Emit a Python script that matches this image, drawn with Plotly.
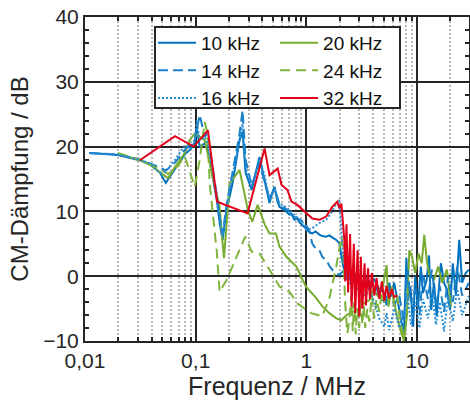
import plotly.graph_objects as go

# ---------------- data (frequency in MHz, attenuation in dB) ----------------
pts_10k = [(0.0109,19.0),(0.0198,18.7),(0.0313,17.9),(0.0385,17.3),(0.0474,16.0),(0.0537,14.4),(0.0647,16.5),
           (0.0796,18.8),(0.0883,19.5),(0.098,20.6),(0.102,22.8),(0.1087,20.0),(0.1206,20.5),(0.128,19.5),
           (0.142,15.4),(0.155,11.8),(0.1645,8.2),(0.175,5.6),(0.19,10.2),(0.215,14.3),(0.249,21.0),(0.265,22.3),
           (0.282,16.0),(0.32,13.3),(0.377,18.4),(0.419,15.0),(0.464,11.3),(0.494,13.0),(0.515,13.8),(0.548,11.5),
           (0.571,10.7),(0.634,10.2),(0.674,9.8),(0.703,9.5),(0.733,9.6),(0.779,8.7),(0.829,8.9),(0.865,8.3),
           (0.959,7.6),(1.0,7.3),(1.064,6.8),(1.13,6.6),(1.21,6.9),(1.31,6.4),(1.39,6.2),(1.51,6.1),(1.61,6.3),
           (1.71,6.0),(1.79,5.8),(1.86,5.6),(1.98,5.1),(2.07,3.0),(2.15,1.5),(2.24,0.5),(2.34,-0.5),(2.44,0.0),
           (2.54,-1.0),(2.7,0.5),(2.88,-0.8),(3.0,0.2),(3.2,-1.5),(3.4,0.0),(3.7,-1.0),(4.1,-0.5),(4.55,-2.0),
           (5.05,-2.6),(5.3,-4.5),(5.6,-1.0),(5.9,-3.0),(6.2,-1.0),(6.6,-3.6),(6.9,-5.5),(7.3,-7.8),(7.6,-9.0),
           (8.0,2.8),(8.3,-3.6),(8.7,-1.6),(9.2,-7.8),(9.6,0.0),(10.2,-4.7),(10.8,1.5),(11.3,-2.6),(12.2,-0.6),
           (12.8,3.2),(13.4,-5.2),(14.2,-1.0),(15.0,-6.2),(15.6,-2.0),(16.4,2.0),(17.5,-1.0),(18.6,-2.1),
           (19.8,-5.2),(21.0,2.0),(22.4,-3.0),(24.0,5.6),(25.5,-1.0),(27.5,0.5),(29.4,1.0)]

pts_14k = [(0.0109,19.0),(0.0198,18.8),(0.0313,18.0),(0.0474,16.8),(0.0537,16.3),(0.0647,17.5),(0.0796,19.5),
           (0.098,21.0),(0.1087,24.9),(0.1206,21.5),(0.128,22.0),(0.142,17.0),(0.155,12.5),(0.1645,9.0),
           (0.175,6.5),(0.19,11.0),(0.215,16.0),(0.249,22.0),(0.265,25.6),(0.282,18.0),(0.32,14.0),(0.377,17.5),
           (0.419,14.5),(0.464,12.0),(0.515,13.5),(0.571,11.0),(0.634,10.5),(0.703,10.0),(0.779,9.2),(0.865,8.8),
           (0.959,8.3),(1.064,7.0),(1.13,5.0),(1.21,4.3),(1.31,4.0),(1.39,3.0),(1.51,2.5),(1.61,1.6),(1.71,1.0),
           (1.86,0.5),(1.98,0.2),(2.15,0.8),(2.34,-0.5),(2.54,0.8),(2.7,-1.0),(2.88,0.0),(3.1,-1.8),(3.4,-0.5),
           (3.7,-2.0),(4.1,-1.0),(4.55,-3.0),(5.05,-4.0),(5.6,-2.0),(6.2,-4.5),(6.9,-3.0),(7.6,-7.0),(8.2,1.0),
           (8.8,-4.0),(9.6,-2.0),(10.5,-6.0),(11.3,0.5),(12.5,-3.5),(13.6,1.0),(14.8,-4.5),(16.0,-1.5),
           (17.5,-5.5),(19.0,0.0),(21.0,-4.0),(23.0,1.5),(25.5,-3.0),(29.4,-1.0)]

pts_16k = [(0.0109,19.0),(0.0198,18.8),(0.0313,18.0),(0.0385,17.4),(0.0474,15.9),(0.0537,16.2),(0.0647,17.9),
           (0.0796,20.2),(0.0883,19.7),(0.098,21.0),(0.102,24.0),(0.1087,21.0),(0.1206,21.5),(0.128,20.5),
           (0.142,16.5),(0.155,12.0),(0.1645,8.8),(0.175,6.2),(0.19,10.8),(0.215,15.5),(0.249,21.5),(0.265,23.5),
           (0.282,17.0),(0.32,14.0),(0.377,18.0),(0.419,15.5),(0.464,12.0),(0.515,13.5),(0.571,11.2),(0.634,10.8),
           (0.703,10.2),(0.779,9.4),(0.865,8.8),(0.959,8.0),(1.0,7.1),(1.13,7.4),(1.31,8.2),(1.51,8.7),
           (1.71,10.0),(1.79,10.7),(1.98,11.8),(2.07,6.0),(2.15,3.0),(2.34,0.0),(2.54,-1.5),(2.7,-0.5),(2.88,-2.0),
           (3.1,-1.0),(3.4,-3.0),(3.7,-2.0),(4.1,-4.0),(4.55,-6.5),(5.05,-7.8),(5.3,-5.7),(5.6,-8.3),(6.2,-5.0),
           (6.9,-8.0),(7.6,-6.0),(8.2,-3.0),(8.8,-7.5),(9.6,-4.0),(10.5,-8.0),(11.3,-3.5),(12.5,-6.5),(13.6,-2.5),
           (14.8,-7.5),(16.0,-4.0),(17.5,-8.5),(19.0,-3.0),(21.0,-7.0),(23.0,-2.0),(25.5,-6.0),(29.4,-3.0)]

pts_20k = [(0.0198,18.9),(0.0313,17.9),(0.0385,17.2),(0.0474,16.0),(0.0562,15.1),(0.0647,16.8),(0.0796,19.0),
           (0.0883,21.0),(0.098,22.0),(0.1087,21.5),(0.1206,21.0),(0.142,15.4),(0.1645,10.7),(0.175,5.1),
           (0.18,2.8),(0.19,8.0),(0.2025,14.3),(0.249,16.4),(0.296,10.2),(0.324,8.4),(0.363,11.0),(0.42,8.0),
           (0.464,6.6),(0.53,6.6),(0.57,4.6),(0.66,3.0),(0.73,2.2),(0.81,1.5),(0.99,-1.6),(1.2,-3.2),(1.4,-4.7),
           (1.61,-5.7),(1.86,-6.5),(2.07,-6.8),(2.3,-6.0),(2.6,-5.5),(3.0,-5.0),(3.4,-4.0),(3.7,-3.7),(4.0,-2.0),
           (4.4,-3.0),(4.9,-1.5),(5.3,1.7),(5.5,-4.7),(5.9,-1.6),(6.4,-5.2),(7.0,-8.0),(7.6,-10.0),(8.1,-6.0),
           (8.5,4.0),(9.0,3.0),(9.6,0.5),(10.3,3.5),(11.0,2.0),(11.6,6.4),(12.2,2.5),(12.8,0.5),(14.2,-0.6),
           (15.5,1.5),(16.8,-1.0),(18.6,1.0),(20.2,-4.7)]

pts_24k = [(0.0198,19.0),(0.0313,18.0),(0.0474,16.5),(0.0562,15.8),(0.0647,16.5),(0.0717,17.4),(0.0796,18.5),
           (0.0883,16.0),(0.098,13.8),(0.1087,18.0),(0.1206,23.8),(0.128,22.0),(0.1337,14.3),(0.1546,4.0),
           (0.1645,-2.4),(0.19,-0.6),(0.229,2.5),(0.28,6.1),(0.32,3.8),(0.377,3.5),(0.464,1.0),(0.571,-1.6),
           (0.703,-2.4),(0.829,-4.2),(1.1,-5.7),(1.39,-6.2),(1.61,-3.4),(1.86,1.5),(2.07,6.1),(2.15,4.0),
           (2.24,-4.2),(2.34,-8.8),(2.44,-7.0),(2.54,-3.0),(2.62,-8.5),(2.7,-4.0),(2.79,-9.0),(2.88,-5.0),
           (3.0,-8.0),(3.1,-3.5),(3.2,-7.5),(3.3,-4.5),(3.4,-8.0),(3.55,-5.0),(3.7,-7.0),(3.9,-3.0),(4.1,-6.5),
           (4.3,-3.5),(4.55,-5.5),(4.8,-2.5),(5.05,-4.0),(5.3,-1.5),(5.6,-3.0),(5.9,-2.0),(6.2,-4.5),(6.6,-3.0),
           (6.9,-6.0),(7.3,-8.0),(7.6,-9.5)]

pts_32k = [(0.0313,17.9),(0.065,21.6),(0.096,20.0),(0.129,22.5),(0.156,11.5),(0.294,9.7),(0.419,19.7),
           (0.464,15.6),(0.55,16.6),(0.595,14.1),(0.674,13.3),(0.733,11.5),(0.829,11.0),(0.959,10.0),(1.13,8.9),
           (1.31,8.7),(1.51,9.2),(1.71,10.7),(1.9,11.5),(1.98,10.5),(2.07,11.2),(2.2,5.6),(2.24,-0.8),(2.3,8.0),
           (2.38,-2.5),(2.48,6.5),(2.56,-4.7),(2.68,5.0),(2.76,-5.7),(2.9,4.0),(3.0,-6.2),(3.1,3.0),(3.2,-5.0),
           (3.35,2.0),(3.45,-4.5),(3.6,1.2),(3.75,-3.5),(3.9,0.5),(4.1,-3.0),(4.3,-0.3),(4.55,-3.5),(4.8,-0.8),
           (5.05,-3.8),(5.3,-1.5),(5.6,-3.4),(5.9,-2.0),(6.2,-3.2),(6.6,-3.0)]

series_names = ["10 kHz", "20 kHz", "14 kHz", "24 kHz", "16 kHz", "32 kHz"]
series_pts = [pts_10k, pts_20k, pts_14k, pts_24k, pts_16k, pts_32k]
series_colors = ["#0072BD", "#77AC30", "#1a7fc7", "#7fb33b", "#2b8fd8", "#E2001A"]
series_dash = ["solid", "solid", "10px,5px", "10px,6px", "2px,2px", "solid"]
series_legend = ["legend", "legend2", "legend", "legend2", "legend", "legend2"]

x_ticks = [0.01, 0.1, 1, 10]
x_ticktext = ["0,01", "0,1", "1", "10"]
x_minor = [k * 10.0 ** e for e in (-2, -1, 0, 1) for k in range(2, 10) if k * 10.0 ** e < 30]

# ---------------- figure ----------------
fig = go.Figure()
for name, pts, col, dash, lg in zip(series_names, series_pts, series_colors, series_dash, series_legend):
    xs = [p[0] for p in pts]
    ys = [p[1] for p in pts]
    fig.add_trace(go.Scatter(x=xs, y=ys, mode="lines", name=name, legend=lg,
                             line=dict(color=col, width=2, dash=dash)))

axcol = "#262626"
font = "Liberation Sans, Arial, sans-serif"
leg_common = dict(orientation="v", y=0.979, xanchor="left", yanchor="top",
                  bgcolor="rgba(0,0,0,0)", borderwidth=0, itemwidth=38,
                  font=dict(family=font, size=19, color="#111"))
fig.update_layout(
    width=470, height=414,
    margin=dict(l=85, r=1, t=17, b=73),
    paper_bgcolor="white", plot_bgcolor="white",
    font=dict(family=font, size=20, color=axcol),
    showlegend=True,
    legend=dict(x=0.177, **leg_common),
    legend2=dict(x=0.495, **leg_common),
    shapes=[dict(type="rect", xref="paper", yref="paper", x0=0.1823, x1=0.8203, y0=0.7191, y1=0.9691,
                 fillcolor="white", line=dict(color=axcol, width=2), layer="above")],
)
fig.update_xaxes(
    type="log", range=[-2, 1.4685],
    tickvals=x_ticks, ticktext=x_ticktext,
    ticks="inside", ticklen=7, tickwidth=2, tickcolor=axcol,
    showline=True, linecolor=axcol, linewidth=2, mirror="allticks",
    showgrid=True, gridcolor=axcol, gridwidth=2,
    minor=dict(tickvals=x_minor, ticks="inside", ticklen=4, tickcolor=axcol,
               showgrid=True, gridcolor="#b8b8b8", gridwidth=1.5, griddash="2px,2px"),
    tickfont=dict(size=21),
    title=dict(text="Frequenz / MHz", font=dict(size=25), standoff=6),
    zeroline=False, automargin=False,
)
fig.update_yaxes(
    range=[-10, 40], dtick=10, tick0=0,
    ticks="inside", ticklen=7, tickwidth=2, tickcolor=axcol,
    showline=True, linecolor=axcol, linewidth=2, mirror="allticks",
    showgrid=True, gridcolor=axcol, gridwidth=2,
    minor=dict(dtick=2, ticks="inside", ticklen=4, tickcolor=axcol, showgrid=False),
    tickfont=dict(size=21),
    title=dict(text="CM-Dämpfung / dB", font=dict(size=24), standoff=8),
    zeroline=False, automargin=False,
)

fig.write_html("out.html", config={"displayModeBar": False},
               post_script="document.body.style.margin='0';")
